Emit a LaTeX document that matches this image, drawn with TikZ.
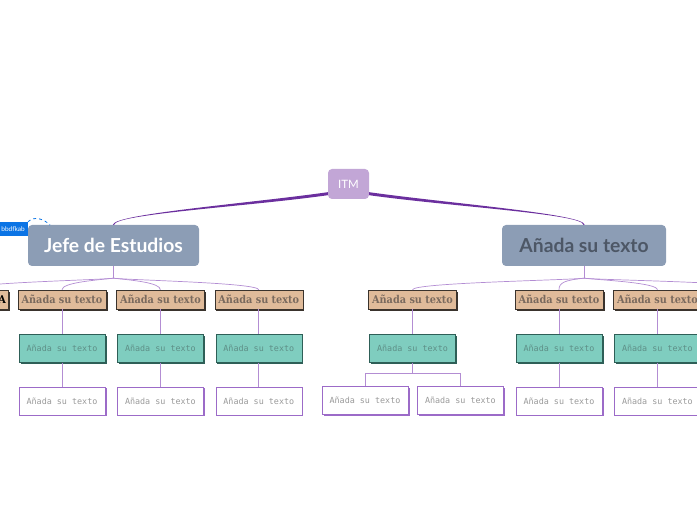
\documentclass[tikz,border=0pt]{standalone}
\usepackage{fontspec}
\usepackage{xcolor}
\usepackage{tikz}
\usetikzlibrary{positioning,shadows}
\newfontfamily\mapfont{Lato}
\newfontfamily\slabfont{DejaVu Serif Condensed}
\newfontfamily\pixfont{DejaVu Sans Mono}
\definecolor{ITMPurple}{HTML}{C2A6D6}
\definecolor{MainGrey}{HTML}{8C9DB5}
\definecolor{MainText}{HTML}{4D5766}
\definecolor{LinkPurple}{HTML}{6B2F9E}
\definecolor{SubPurple}{HTML}{B38DD3}
\definecolor{TopicFill}{HTML}{E0BB9A}
\definecolor{TopicEdge}{HTML}{3A332D}
\definecolor{TopicText}{HTML}{7A6A5E}
\definecolor{SubFill}{HTML}{7FCDBF}
\definecolor{SubEdge}{HTML}{2E5F57}
\definecolor{SubText}{HTML}{5E8F87}
\definecolor{LeafEdge}{HTML}{9C6BC8}
\definecolor{LeafText}{HTML}{9A9A9A}
\definecolor{TagBlue}{HTML}{0B74E5}

\begin{document}
\begin{tikzpicture}[x=1pt,y=1pt,node distance=10pt]
\tikzset{rootbox/.style={fill=ITMPurple,rounded corners=4pt,minimum width=41pt,minimum height=30pt,inner sep=0pt,text=white,font=\mapfont\fontsize{11.5}{13}\selectfont},
mainbox/.style={fill=MainGrey,rounded corners=4pt,minimum height=41pt,inner sep=0pt,font=\mapfont\bfseries\fontsize{19.3}{22}\selectfont},
topicbox/.style={draw=TopicEdge,fill=TopicFill,minimum width=88pt,minimum height=19pt,inner sep=0pt,text=TopicText,font=\slabfont\bfseries\fontsize{10.8}{12}\selectfont,drop shadow={shadow xshift=1.6pt,shadow yshift=-1.6pt,fill=TopicEdge,opacity=1}},
subbox/.style={draw=SubEdge,fill=SubFill,minimum width=86pt,minimum height=28pt,inner sep=0pt,text=SubText,font=\pixfont\fontsize{8.4}{10}\selectfont,drop shadow={shadow xshift=1.6pt,shadow yshift=-1.6pt,fill=SubEdge,opacity=1}},
leafbox/.style={draw=LeafEdge,fill=white,minimum width=86pt,minimum height=28pt,inner sep=0pt,text=LeafText,font=\pixfont\fontsize{8.4}{10}\selectfont,drop shadow={shadow xshift=1.6pt,shadow yshift=-1.6pt,fill=LeafEdge,opacity=1}},
tagbox/.style={fill=TagBlue,text=white,minimum height=14pt,text width=45pt,align=right,inner xsep=3pt,inner ysep=0pt,font=\mapfont\fontsize{6.5}{8}\selectfont},
mainlink/.style={fill=LinkPurple},
sublink/.style={draw=SubPurple,line width=0.7pt},
fanl/.style={out=186,in=90,out distance=20pt,in distance=7pt},
fanr/.style={out=-6,in=90,out distance=20pt,in distance=7pt}}
\useasboundingbox (0,0) rectangle (697,520);
\clip (0,0) rectangle (697,520);

% top levels
\node[rootbox] (itm) at (348.5,336) {ITM};
\node[mainbox,minimum width=171pt,text=white] (jefe) at (113.5,274.5) {Jefe de Estudios};
\node[mainbox,minimum width=164pt,text=MainText] (main2) at (584,274.5) {Añada su texto};
\node[tagbox,anchor=east] (tag) at (28,291) {bbdfkab};
\coordinate (tagend) at (50,295);
\draw[TagBlue,dashed,line width=0.8pt] (tag.north east) to[out=45,in=135] (tagend);

% Jefe de Estudios branch
\node[topicbox,text width=84pt,align=right,text=black] (t0) at (-36,220.5) {A};
\node[topicbox] (t1) at (62,220.5) {Añada su texto};
\node[topicbox,right=of t1] (t2) {Añada su texto};
\node[topicbox,right=of t2] (t3) {Añada su texto};
\node[subbox,below=25pt of t1] (s1) {Añada su texto};
\node[subbox,below=25pt of t2] (s2) {Añada su texto};
\node[subbox,below=25pt of t3] (s3) {Añada su texto};
\node[leafbox,below=24pt of s1] (w1) {Añada su texto};
\node[leafbox,below=24pt of s2] (w2) {Añada su texto};
\node[leafbox,below=24pt of s3] (w3) {Añada su texto};

% second branch
\node[topicbox] (t4) at (412.5,220.5) {Añada su texto};
\node[topicbox] (t5) at (559,220.5) {Añada su texto};
\node[topicbox,right=of t5] (t6) {Añada su texto};
\node[subbox,below=25pt of t4] (s4) {Añada su texto};
\node[subbox,below=25pt of t5] (s5) {Añada su texto};
\node[subbox,below=25pt of t6] (s6) {Añada su texto};
\node[leafbox] (w4a) at (365,120) {Añada su texto};
\node[leafbox,right=9pt of w4a] (w4b) {Añada su texto};
\node[leafbox,below=24pt of s5] (w5) {Añada su texto};
\node[leafbox,below=24pt of s6] (w6) {Añada su texto};
\coordinate (rfar) at (755,231);

% links (tapered)
\path[mainlink] ([yshift=7pt]itm.south west) .. controls (248,316.5) and (113.4,306) .. ([xshift=-0.6pt]jefe.north)
  -- ([xshift=0.6pt]jefe.north) .. controls (114.6,306) and (248,313.5) .. ([yshift=4pt]itm.south west) -- cycle;
\path[mainlink] ([yshift=7pt]itm.south east) .. controls (450,316.5) and (584.6,306) .. ([xshift=0.6pt]main2.north)
  -- ([xshift=-0.6pt]main2.north) .. controls (583.4,306) and (450,313.5) .. ([yshift=4pt]itm.south east) -- cycle;
\coordinate[below=12pt of jefe] (jfork);
\coordinate[below=12pt of main2] (rfork);
\draw[sublink] (jefe) -- (jfork);
\draw[sublink] (main2) -- (rfork);
\draw[sublink] (jfork) to[fanl] (t0.north);
\draw[sublink] (jfork) to[fanl] (t1.north);
\draw[sublink] (jfork) to[fanr] (t2.north);
\draw[sublink] (jfork) to[fanr] (t3.north);
\draw[sublink] (rfork) to[fanl] (t4.north);
\draw[sublink] (rfork) to[fanl] (t5.north);
\draw[sublink] (rfork) to[fanr] (t6.north);
\draw[sublink] (rfork) to[fanr] (rfar);
\foreach \i in {1,2,3,5,6} {
  \draw[sublink] (t\i) -- (s\i);
  \draw[sublink] (s\i) -- (w\i);
}
\draw[sublink] (t4) -- (s4);
\coordinate[below=11pt of s4] (s4fork);
\draw[sublink] (s4) -- (s4fork) -| (w4a);
\draw[sublink] (s4fork) -| (w4b);
\end{tikzpicture}
\end{document}
